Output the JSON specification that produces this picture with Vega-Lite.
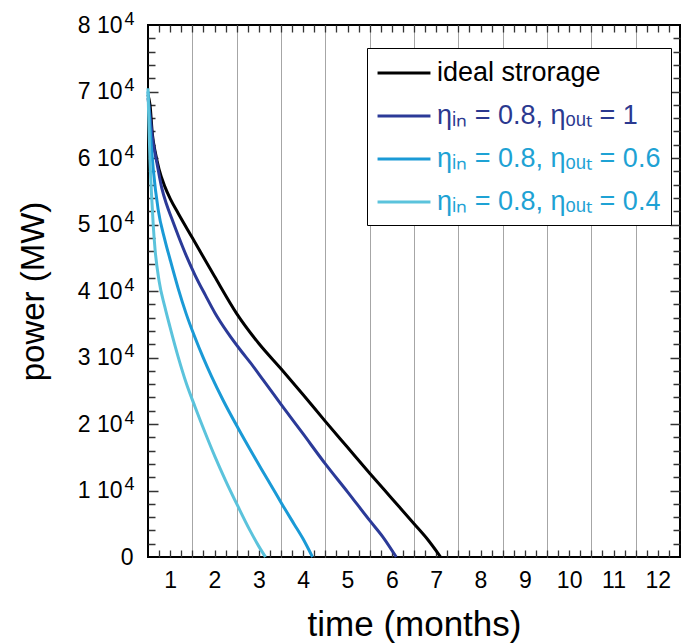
{
  "$schema": "https://vega.github.io/schema/vega-lite/v6.json",
  "width": 532,
  "height": 532,
  "autosize": {"type": "none"},
  "padding": {"left": 148, "top": 25, "right": 1, "bottom": 87},
  "background": "white",
  "config": {
    "view": {"stroke": "black", "strokeWidth": 2},
    "font": "Liberation Sans",
    "axis": {"labelFont": "Liberation Sans", "titleFont": "Liberation Sans", "labelColor": "black", "titleColor": "black", "titleFontWeight": "normal"}
  },
  "data": {"values": [
    {"s": "ideal strorage", "t": 0.5, "p": 69500},
    {"s": "ideal strorage", "t": 0.545, "p": 68000},
    {"s": "ideal strorage", "t": 0.6, "p": 63500},
    {"s": "ideal strorage", "t": 0.66, "p": 61000},
    {"s": "ideal strorage", "t": 0.75, "p": 58300},
    {"s": "ideal strorage", "t": 0.88, "p": 55700},
    {"s": "ideal strorage", "t": 1.0, "p": 53900},
    {"s": "ideal strorage", "t": 1.18, "p": 51700},
    {"s": "ideal strorage", "t": 1.5, "p": 48000},
    {"s": "ideal strorage", "t": 2.0, "p": 42200},
    {"s": "ideal strorage", "t": 2.5, "p": 36600},
    {"s": "ideal strorage", "t": 3.0, "p": 32100},
    {"s": "ideal strorage", "t": 3.5, "p": 28300},
    {"s": "ideal strorage", "t": 4.0, "p": 24400},
    {"s": "ideal strorage", "t": 4.5, "p": 20400},
    {"s": "ideal strorage", "t": 5.0, "p": 16500},
    {"s": "ideal strorage", "t": 5.5, "p": 12600},
    {"s": "ideal strorage", "t": 6.0, "p": 8800},
    {"s": "ideal strorage", "t": 6.5, "p": 5000},
    {"s": "ideal strorage", "t": 6.8, "p": 2700},
    {"s": "ideal strorage", "t": 7.1, "p": 0},
    {"s": "ηᵢₙ = 0.8, ηₒᵤₜ = 1", "t": 0.5, "p": 69000},
    {"s": "ηᵢₙ = 0.8, ηₒᵤₜ = 1", "t": 0.545, "p": 66500},
    {"s": "ηᵢₙ = 0.8, ηₒᵤₜ = 1", "t": 0.6, "p": 63000},
    {"s": "ηᵢₙ = 0.8, ηₒᵤₜ = 1", "t": 0.7, "p": 59300},
    {"s": "ηᵢₙ = 0.8, ηₒᵤₜ = 1", "t": 0.81, "p": 55500},
    {"s": "ηᵢₙ = 0.8, ηₒᵤₜ = 1", "t": 0.92, "p": 53000},
    {"s": "ηᵢₙ = 0.8, ηₒᵤₜ = 1", "t": 1.03, "p": 51000},
    {"s": "ηᵢₙ = 0.8, ηₒᵤₜ = 1", "t": 1.2, "p": 48000},
    {"s": "ηᵢₙ = 0.8, ηₒᵤₜ = 1", "t": 1.37, "p": 45200},
    {"s": "ηᵢₙ = 0.8, ηₒᵤₜ = 1", "t": 1.56, "p": 42400},
    {"s": "ηᵢₙ = 0.8, ηₒᵤₜ = 1", "t": 1.8, "p": 39300},
    {"s": "ηᵢₙ = 0.8, ηₒᵤₜ = 1", "t": 2.01, "p": 36700},
    {"s": "ηᵢₙ = 0.8, ηₒᵤₜ = 1", "t": 2.3, "p": 33700},
    {"s": "ηᵢₙ = 0.8, ηₒᵤₜ = 1", "t": 2.61, "p": 30900},
    {"s": "ηᵢₙ = 0.8, ηₒᵤₜ = 1", "t": 2.8, "p": 29300},
    {"s": "ηᵢₙ = 0.8, ηₒᵤₜ = 1", "t": 3.1, "p": 26600},
    {"s": "ηᵢₙ = 0.8, ηₒᵤₜ = 1", "t": 3.53, "p": 22700},
    {"s": "ηᵢₙ = 0.8, ηₒᵤₜ = 1", "t": 4.0, "p": 18500},
    {"s": "ηᵢₙ = 0.8, ηₒᵤₜ = 1", "t": 4.5, "p": 14000},
    {"s": "ηᵢₙ = 0.8, ηₒᵤₜ = 1", "t": 5.0, "p": 9800},
    {"s": "ηᵢₙ = 0.8, ηₒᵤₜ = 1", "t": 5.5, "p": 5500},
    {"s": "ηᵢₙ = 0.8, ηₒᵤₜ = 1", "t": 5.8, "p": 3000},
    {"s": "ηᵢₙ = 0.8, ηₒᵤₜ = 1", "t": 6.1, "p": 0},
    {"s": "ηᵢₙ = 0.8, ηₒᵤₜ = 0.6", "t": 0.5, "p": 70000},
    {"s": "ηᵢₙ = 0.8, ηₒᵤₜ = 0.6", "t": 0.545, "p": 64700},
    {"s": "ηᵢₙ = 0.8, ηₒᵤₜ = 0.6", "t": 0.62, "p": 58200},
    {"s": "ηᵢₙ = 0.8, ηₒᵤₜ = 0.6", "t": 0.73, "p": 52200},
    {"s": "ηᵢₙ = 0.8, ηₒᵤₜ = 0.6", "t": 0.88, "p": 47700},
    {"s": "ηᵢₙ = 0.8, ηₒᵤₜ = 0.6", "t": 1.0, "p": 44700},
    {"s": "ηᵢₙ = 0.8, ηₒᵤₜ = 0.6", "t": 1.18, "p": 40400},
    {"s": "ηᵢₙ = 0.8, ηₒᵤₜ = 0.6", "t": 1.36, "p": 36600},
    {"s": "ηᵢₙ = 0.8, ηₒᵤₜ = 0.6", "t": 1.56, "p": 33000},
    {"s": "ηᵢₙ = 0.8, ηₒᵤₜ = 0.6", "t": 1.75, "p": 29900},
    {"s": "ηᵢₙ = 0.8, ηₒᵤₜ = 0.6", "t": 1.93, "p": 27200},
    {"s": "ηᵢₙ = 0.8, ηₒᵤₜ = 0.6", "t": 2.2, "p": 23500},
    {"s": "ηᵢₙ = 0.8, ηₒᵤₜ = 0.6", "t": 2.53, "p": 19400},
    {"s": "ηᵢₙ = 0.8, ηₒᵤₜ = 0.6", "t": 2.8, "p": 16200},
    {"s": "ηᵢₙ = 0.8, ηₒᵤₜ = 0.6", "t": 3.06, "p": 13200},
    {"s": "ηᵢₙ = 0.8, ηₒᵤₜ = 0.6", "t": 3.3, "p": 10500},
    {"s": "ηᵢₙ = 0.8, ηₒᵤₜ = 0.6", "t": 3.51, "p": 8100},
    {"s": "ηᵢₙ = 0.8, ηₒᵤₜ = 0.6", "t": 3.8, "p": 4900},
    {"s": "ηᵢₙ = 0.8, ηₒᵤₜ = 0.6", "t": 4.0, "p": 2700},
    {"s": "ηᵢₙ = 0.8, ηₒᵤₜ = 0.6", "t": 4.21, "p": 0},
    {"s": "ηᵢₙ = 0.8, ηₒᵤₜ = 0.4", "t": 0.5, "p": 70500},
    {"s": "ηᵢₙ = 0.8, ηₒᵤₜ = 0.4", "t": 0.52, "p": 65000},
    {"s": "ηᵢₙ = 0.8, ηₒᵤₜ = 0.4", "t": 0.545, "p": 59700},
    {"s": "ηᵢₙ = 0.8, ηₒᵤₜ = 0.4", "t": 0.58, "p": 54500},
    {"s": "ηᵢₙ = 0.8, ηₒᵤₜ = 0.4", "t": 0.62, "p": 49700},
    {"s": "ηᵢₙ = 0.8, ηₒᵤₜ = 0.4", "t": 0.66, "p": 46200},
    {"s": "ηᵢₙ = 0.8, ηₒᵤₜ = 0.4", "t": 0.75, "p": 41500},
    {"s": "ηᵢₙ = 0.8, ηₒᵤₜ = 0.4", "t": 0.88, "p": 37600},
    {"s": "ηᵢₙ = 0.8, ηₒᵤₜ = 0.4", "t": 1.0, "p": 34500},
    {"s": "ηᵢₙ = 0.8, ηₒᵤₜ = 0.4", "t": 1.18, "p": 30100},
    {"s": "ηᵢₙ = 0.8, ηₒᵤₜ = 0.4", "t": 1.36, "p": 26200},
    {"s": "ηᵢₙ = 0.8, ηₒᵤₜ = 0.4", "t": 1.56, "p": 22600},
    {"s": "ηᵢₙ = 0.8, ηₒᵤₜ = 0.4", "t": 1.8, "p": 18500},
    {"s": "ηᵢₙ = 0.8, ηₒᵤₜ = 0.4", "t": 2.01, "p": 15100},
    {"s": "ηᵢₙ = 0.8, ηₒᵤₜ = 0.4", "t": 2.25, "p": 11500},
    {"s": "ηᵢₙ = 0.8, ηₒᵤₜ = 0.4", "t": 2.53, "p": 7600},
    {"s": "ηᵢₙ = 0.8, ηₒᵤₜ = 0.4", "t": 2.8, "p": 4000},
    {"s": "ηᵢₙ = 0.8, ηₒᵤₜ = 0.4", "t": 3.0, "p": 1600},
    {"s": "ηᵢₙ = 0.8, ηₒᵤₜ = 0.4", "t": 3.15, "p": 0}
  ]},
  "resolve": {"axis": {"x": "independent", "y": "independent"}},
  "layer": [
    {
      "mark": {"type": "line", "opacity": 0},
      "encoding": {
        "x": {"field": "t", "type": "quantitative", "scale": {"domain": [0.5, 12.5], "nice": false, "zero": false},
          "axis": {"orient": "bottom", "values": [1.5,2.5,3.5,4.5,5.5,6.5,7.5,8.5,9.5,10.5,11.5], "labels": false, "ticks": false, "domain": false, "grid": true, "gridColor": "#a6a6a6", "gridWidth": 1, "title": null}},
        "y": {"field": "p", "type": "quantitative", "scale": {"domain": [0, 80000], "nice": false},
          "axis": {"orient": "right", "values": [10000,20000,30000,40000,50000,60000,70000], "labels": false, "ticks": false, "domain": false, "grid": true, "gridColor": "#333333", "gridWidth": 1.5, "gridDash": [10, 512, 10, 100], "title": null}}
      }
    },
    {
      "mark": {"type": "line", "opacity": 0},
      "encoding": {
        "x": {"field": "t", "type": "quantitative", "scale": {"domain": [0.5, 12.5], "nice": false, "zero": false},
          "axis": {"orient": "top", "values": [0.75,1,1.25,1.5,1.75,2,2.25,2.5,2.75,3,3.25,3.5,3.75,4,4.25,4.5,4.75,5,5.25,5.5,5.75,6,6.25,6.5,6.75,7,7.25,7.5,7.75,8,8.25,8.5,8.75,9,9.25,9.5,9.75,10,10.25,10.5,10.75,11,11.25,11.5,11.75,12,12.25], "labels": false, "ticks": false, "domain": false, "grid": true, "gridColor": "#333333", "gridWidth": 1.3, "gridDash": [7, 518, 7, 100], "title": null}},
        "y": {"field": "p", "type": "quantitative", "scale": {"domain": [0, 80000], "nice": false},
          "axis": {"orient": "right", "values": [2000,4000,6000,8000,12000,14000,16000,18000,22000,24000,26000,28000,32000,34000,36000,38000,42000,44000,46000,48000,52000,54000,56000,58000,62000,64000,66000,68000,72000,74000,76000,78000], "labels": false, "ticks": false, "domain": false, "grid": true, "gridColor": "#333333", "gridWidth": 1.3, "gridDash": [7, 518, 7, 100], "title": null}}
      }
    },
    {
      "mark": {"type": "line", "opacity": 0},
      "encoding": {
        "x": {"field": "t", "type": "quantitative", "scale": {"domain": [0.5, 12.5], "nice": false, "zero": false}, "axis": null},
        "y": {"field": "p", "type": "quantitative", "scale": {"domain": [0, 80000], "nice": false},
          "axis": {"orient": "left", "values": [10000,20000,30000,40000,50000,60000,70000,80000], "labelExpr": "'4'", "labelFontSize": 18, "labelPadding": 14, "labelOffset": -6, "ticks": false, "domain": false, "grid": false, "title": null}}
      }
    },
    {
      "mark": {"type": "line", "strokeWidth": 3, "interpolate": "monotone"},
      "encoding": {
        "x": {"field": "t", "type": "quantitative", "scale": {"domain": [0.5, 12.5], "nice": false, "zero": false},
          "axis": {"orient": "bottom", "values": [1,2,3,4,5,6,7,8,9,10,11,12], "format": "d", "ticks": false, "domain": false, "grid": false, "labelFontSize": 23, "labelPadding": 12, "title": "time (months)", "titleFontSize": 35, "titlePadding": 15}},
        "y": {"field": "p", "type": "quantitative", "scale": {"domain": [0, 80000], "nice": false},
          "axis": {"orient": "left", "values": [0,10000,20000,30000,40000,50000,60000,70000,80000], "labelExpr": "datum.value == 0 ? '0' : (datum.value / 10000) + ' 10'", "labelPadding": {"condition": {"test": "datum.value == 0", "value": 15}, "value": 26}, "ticks": false, "domain": false, "grid": false, "labelFontSize": 23, "title": "power (MW)", "titleFontSize": 33, "titlePadding": 27}},
        "color": {"field": "s", "type": "nominal",
          "scale": {"domain": ["ideal strorage", "ηᵢₙ = 0.8, ηₒᵤₜ = 1", "ηᵢₙ = 0.8, ηₒᵤₜ = 0.6", "ηᵢₙ = 0.8, ηₒᵤₜ = 0.4"], "range": ["#000000", "#2b3a98", "#1a9ad6", "#5bc3dc"]},
          "legend": {
            "orient": "none", "legendX": 219, "legendY": 23, "title": null,
            "symbolType": "M-2,0H2", "symbolSize": 700, "symbolStrokeWidth": 3, "symbolOffset": 12,
            "labelFont": "Liberation Sans", "labelFontSize": 27, "labelOffset": 18, "labelLimit": 400,
            "rowPadding": 15, "padding": 10,
            "strokeColor": "black", "fillColor": "white",
            "encoding": {"labels": {"fill": {"condition": [
              {"test": "datum.label == 'ideal strorage'", "value": "#000000"},
              {"test": "datum.label == 'ηᵢₙ = 0.8, ηₒᵤₜ = 1'", "value": "#2b3990"}
            ], "value": "#1ea2d4"}}}
          }}
      }
    }
  ]
}
